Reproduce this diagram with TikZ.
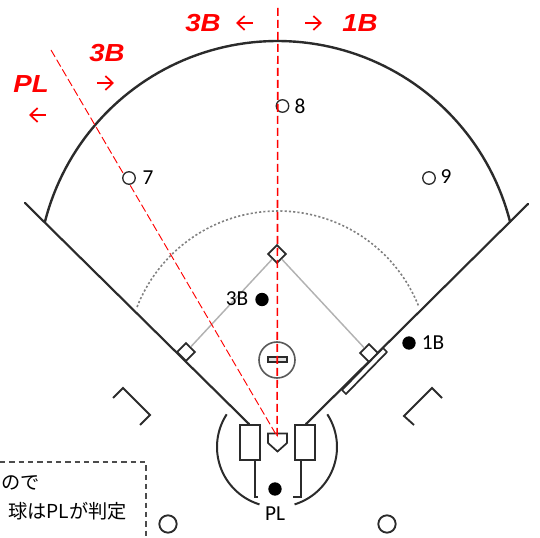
\documentclass[tikz,border=0pt]{standalone}
\usepackage{fontspec}
\setmainfont{Carlito}
\newfontfamily\redfont{Liberation Sans}
\newfontfamily\cjkfont{Noto Sans CJK JP}
\usetikzlibrary{arrows.meta}
\definecolor{ink}{HTML}{2B2B2B}
\definecolor{strongred}{RGB}{255,0,0}
\tikzset{
  fieldline/.style={draw=ink,line width=1.6pt,line cap=round},
  thinline/.style={draw=ink,line width=1.3pt},
  basebox/.style={draw=ink,line width=1.3pt,fill=white,rotate=45,minimum size=9.5pt,inner sep=0pt},
  batbox/.style={draw=ink,line width=1.4pt,fill=white,minimum width=14.6pt,minimum height=26.2pt,inner sep=0pt},
  baseline/.style={draw=black!30,line width=1.1pt},
  opendot/.style={circle,draw=ink,line width=1pt,minimum size=9.4pt,inner sep=0pt,fill=white},
  solid dot/.style={circle,fill=black,minimum size=10pt,inner sep=0pt},
  lab/.style={font=\fontsize{16pt}{18pt}\selectfont,text=black,inner sep=0pt},
  redlab/.style={font=\redfont\bfseries\itshape\fontsize{18.5pt}{20pt}\selectfont,text=red,inner sep=0pt,xscale=1.12},
  redarrow/.style={draw=strongred,line width=1.3pt,-{Straight Barb[length=5.5pt,width=10.5pt,line width=1.3pt]}},
  redvert/.style={draw=strongred,line width=1.2pt,dash pattern=on 6pt off 3pt},
  reddashthin/.style={draw=strongred,line width=.7pt,dash pattern=on 6pt off 2.4pt},
  jp/.style={font=\cjkfont\fontsize{14.4pt}{16pt}\selectfont,text=black,inner sep=0pt,anchor=east},
}
\begin{document}
\begin{tikzpicture}[x=0.75pt,y=-0.75pt]
\useasboundingbox (0,0) rectangle (540,538);
\draw[fieldline,line width=1.8pt] plot[domain=165.7:14.3,samples=90] ({277.5+240*cos(\x)},{281-240*sin(\x)});
\draw[draw=black!50,line width=1.2pt,dash pattern=on 1.6pt off 1.6pt] plot[domain=158.5:21.5,samples=70] ({278+151.5*cos(\x)},{362.5-151.5*sin(\x)});
\coordinate (lfEnd) at (25,203);
\coordinate (rfEnd) at (528,204);
\coordinate (lfHome) at (249,424);
\coordinate (rfHome) at (306,424);
\draw[fieldline] (lfEnd) -- (lfHome);
\draw[fieldline] (rfEnd) -- (rfHome);
\node[basebox] (second) at (277,254) {};
\node[basebox] (third) at (186,352) {};
\node[basebox] (first) at (369,353) {};
\draw[baseline] (second) -- (third);
\draw[baseline] (second) -- (first);
\draw[thinline,fill=white,line join=round] (342,390) -- (346,394) -- (387,352) -- (383,348) -- cycle;
\node[circle,draw=black!65,line width=1.2pt,minimum size=27pt,inner sep=0pt] (mound) at (277,360) {};
\node[draw=ink,line width=1.1pt,fill=black!12,minimum width=14pt,minimum height=3.6pt,inner sep=0pt] (rubber) at (277.5,359.5) {};
\draw[thinline,line width=1.5pt] (255,460) -- (255,497) -- (258,497);
\draw[thinline,line width=1.5pt] (301,460) -- (301,497) -- (293,497);
\node[batbox] (lbox) at (250,442.5) {};
\node[batbox] (rbox) at (305,442.5) {};
\draw[thinline,line width=1.5pt] plot[domain=147:253,samples=40] ({277+60*cos(\x)},{447-60*sin(\x)});
\draw[thinline,line width=1.5pt] plot[domain=33:-73,samples=40] ({277+60*cos(\x)},{447-60*sin(\x)});
\draw[thinline,line join=miter] (268,433.5) -- (287,433.5) -- (287,443) -- (277.5,451.5) -- (268,443) -- cycle;
\draw[thinline,line width=1.4pt,line join=miter] (113,398) -- (123,388) -- (150,415) -- (140,425);
\draw[thinline,line width=1.4pt,line join=miter] (442,398) -- (432,388) -- (404,416) -- (414,425);
\node[circle,draw=ink,line width=1.4pt,minimum size=13pt,inner sep=0pt] (deckL) at (168,524) {};
\node[circle,draw=ink,line width=1.4pt,minimum size=13pt,inner sep=0pt] (deckR) at (387,524) {};
\coordinate (redEnd) at (277.5,437);
\coordinate (redDiag) at (51,50);
\draw[reddashthin] (redDiag) -- (redEnd);
\node[redlab] (tb) at (203,23) {3B};
\node[redlab] (ob) at (360,23) {1B};
\node[redlab] (lb) at (107,53) {3B};
\node[redlab] (pl) at (31,84) {PL};
\coordinate (a1s) at (253,23); \coordinate (a1e) at (236,23);
\coordinate (a2s) at (305,23); \coordinate (a2e) at (322,23);
\coordinate (a3s) at (97,83); \coordinate (a3e) at (114,83);
\coordinate (a4s) at (46,115); \coordinate (a4e) at (29,115);
\draw[redarrow] (a1s) -- (a1e);
\draw[redarrow] (a2s) -- (a2e);
\draw[redarrow] (a3s) -- (a3e);
\draw[redarrow] (a4s) -- (a4e);
\node[opendot] (p7) at (129,178) {};
\node[opendot] (p8) at (282.5,106) {};
\node[opendot] (p9) at (429,178) {};
\node[lab] (l7) at (148,178) {7};
\node[lab] (l8) at (300,106) {8};
\node[lab] (l9) at (446,177) {9};
\node[solid dot] (u3) at (262,299.5) {};
\node[solid dot] (u1) at (409,343) {};
\node[solid dot] (up) at (275,489) {};
\node[lab] (l3) at (237,299) {3B};
\node[lab] (l1) at (433,343) {1B};
\node[lab] (lp) at (275,514) {PL};
\draw[draw=black!70,line width=.9pt,dash pattern=on 4pt off 3pt] (0,462) -- (146,462) -- (146,538);
\node[jp] (n1) at (40,483) {ので};
\node[jp] (n2) at (127,511.5) {球はPLが判定};
\coordinate (redTop) at (277.9,8);
\coordinate (redEndV) at (277.1,437);
\draw[redvert] (redTop) -- (redEndV);
\end{tikzpicture}
\end{document}
